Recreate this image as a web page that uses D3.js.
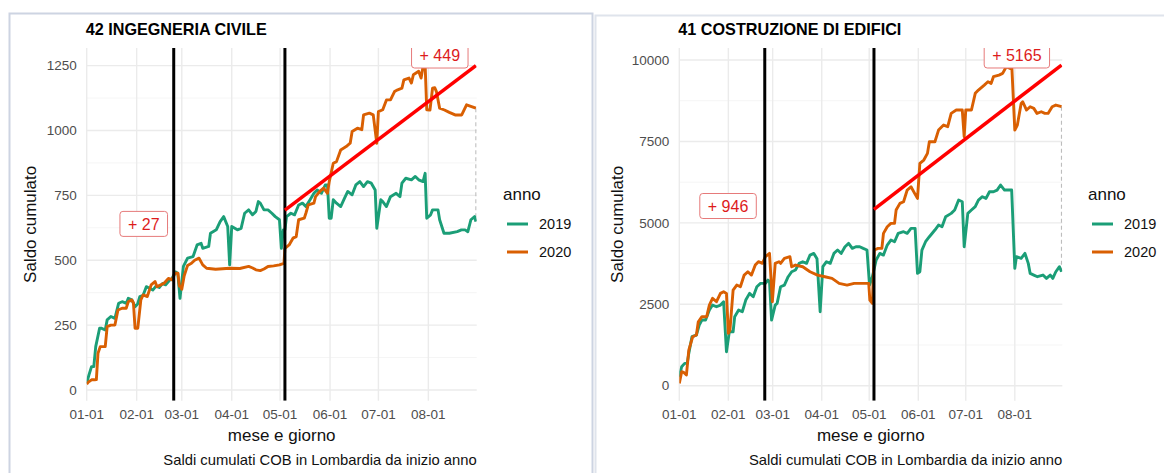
<!DOCTYPE html>
<html>
<head>
<meta charset="utf-8">
<script src="https://cdn.jsdelivr.net/npm/d3@7.9.0/dist/d3.min.js"></script>
<style>
  body { margin: 0; background: #fff; }
  text { font-family: "Liberation Sans", Arial, Helvetica, sans-serif; }
</style>
</head>
<body>
<svg id="chart" width="1164" height="473"></svg>
<script>
// month ticks (day of year)
const monthDays = [0, 31, 59, 90, 120, 151, 181, 212];
const monthLabels = ['01-01', '02-01', '03-01', '04-01', '05-01', '06-01', '07-01', '08-01'];
const years = ['2019', '2020'];
const lockdownDays = [54, 123]; // 24 feb, 4 mag

// 42 INGEGNERIA CIVILE  [day, saldo cumulato]
const civile2019 = [[0,26],[1.5,60],[3,90],[4.4,90],[5.6,167],[8,238],[9,238],[11.5,231],[12.7,270],[15,283],[17.5,276],[19.8,334],[22,340],[24.6,334],[25.8,353],[28,347],[30,321],[31.5,330],[33,360],[35,365],[37,398],[39,392],[41,385],[43,400],[45,395],[47,410],[49,405],[51,420],[53,430],[55,455],[56.5,450],[57.9,353],[60,476],[62.6,508],[66,514],[68.5,559],[71,565],[72,546],[75.7,553],[76.8,604],[80.4,617],[82.8,649],[85,668],[87.5,630],[88.7,482],[90,630],[93.5,617],[95.8,623],[98,681],[100.5,694],[102.9,675],[105,688],[106.5,726],[107.7,720],[110,694],[112.5,694],[114.9,681],[117,668],[119.6,656],[120.8,546],[122,617],[123,617],[124,668],[126.7,681],[129,675],[131.5,713],[133.9,720],[136,707],[138.6,733],[141,758],[143,771],[145.7,758],[148,790],[149.4,790],[150.5,662],[151.7,662],[153,733],[155,720],[157.6,707],[160,739],[162,765],[164.7,752],[167,790],[169.5,803],[171.8,784],[174.2,803],[176.6,797],[179,771],[180,623],[182.5,733],[183.7,726],[186,707],[188.5,745],[192,758],[194.4,745],[195.6,797],[198,816],[201.5,810],[203.9,823],[206,810],[208.7,803],[210,835],[211,662],[213.4,675],[214.6,694],[218,694],[219,656],[221.7,604],[225,604],[229.9,610],[232.5,617],[234.8,617],[236.5,610],[238.4,656],[240.7,668],[241.5,649]];
const civile2020 = [[0,22],[1,30],[3,39],[5,39],[6,40],[7,141],[8.4,167],[11.5,167],[12.7,244],[15,250],[17.5,250],[19.4,308],[22,315],[24.5,315],[25.8,340],[28,347],[29,335],[30,238],[31.7,238],[33.6,347],[35,366],[37.6,360],[40,405],[42.4,418],[43.6,398],[46,405],[48,411],[50.7,430],[53,424],[54.8,450],[56.6,450],[57.5,400],[58.3,398],[59,388],[60.5,440],[62.6,480],[65,488],[67,500],[69.7,508],[72,482],[74.4,469],[80,465],[88.7,469],[95,468],[100.5,476],[103,470],[105,463],[107.7,460],[110,466],[112.5,476],[116,478],[119.6,482],[122.4,488],[123,546],[125.6,559],[128,585],[130,591],[131.5,656],[135,662],[136,681],[137.5,713],[141,720],[142,745],[144.6,765],[147,778],[149.4,758],[150.5,803],[153,874],[155,880],[157.6,925],[161,938],[163.5,951],[164.7,996],[168,1009],[170.7,1003],[171.8,1060],[175.4,1067],[177.8,1060],[180,951],[181,1073],[183.7,1080],[186,1118],[188.5,1118],[191,1150],[193,1157],[195.6,1163],[196.8,1195],[200,1202],[201.5,1183],[202.7,1215],[206,1228],[207.5,1202],[208.7,1247],[210,1253],[211,1080],[213,1079],[214.6,1163],[216,1165],[217,1150],[219,1086],[222,1079],[225,1070],[228.6,1060],[232.7,1060],[235.7,1099],[238.8,1092],[241.5,1086]];
const civileTrend = [[123,693],[241.5,1250]];
const civileTicks = [0, 250, 500, 750, 1000, 1250];
const civileMinor = [125, 375, 625, 875, 1125];

// 41 COSTRUZIONE DI EDIFICI
const edifici2019 = [[0,276],[1.5,583],[3.4,686],[5,686],[6,993],[8,1505],[10.8,1556],[12.6,1863],[14.3,2017],[16.6,2017],[19,2323],[21,2477],[23.5,2426],[26,2477],[28,2580],[29.8,1044],[31.6,1658],[34,1658],[35,2119],[37.5,2323],[39.8,2272],[42,2630],[44.4,2835],[46.7,2733],[49,3040],[51.3,3142],[54.4,3142],[56,3245],[57,3200],[58.3,2016],[60.6,2477],[61.8,2528],[64,3040],[66.4,3091],[68.8,3347],[71,3500],[73.4,3552],[75.7,3757],[78,3808],[80.4,3757],[82.6,4012],[85,4063],[87,3900],[89,2272],[90.7,3654],[93,3808],[95.4,3757],[97.7,4063],[100,4166],[102.3,4063],[104.7,4268],[107,4370],[109.3,4217],[111.6,4268],[114,4268],[116.2,4217],[118.6,4166],[120.2,3091],[122,3347],[124.4,3859],[126.7,4063],[129,4012],[131.4,4319],[133.7,4473],[136,4422],[138.3,4678],[141.7,4729],[144,4678],[146.4,4831],[149,4831],[150.5,3449],[152,3500],[153.3,4166],[155.6,4422],[158,4575],[161.5,4780],[163.8,4934],[166,4882],[168.3,5189],[171.8,5292],[174,5394],[176.5,5701],[178.8,5650],[180,4268],[182.3,5292],[184.6,5394],[187,5497],[189,5701],[191.5,5803],[193.8,5752],[196,5957],[198.5,5957],[200.8,6008],[203,6162],[205.5,6008],[207.8,6008],[210,6008],[212,3603],[213,3961],[216,3910],[218.4,4063],[220.5,3757],[221.7,3449],[224,3398],[226.3,3347],[229.8,3398],[232,3296],[234.4,3398],[236,3296],[237.9,3500],[240.2,3654],[241.5,3500]];
const edifici2020 = [[0,72],[1.5,430],[3,400],[4.5,330],[6,1095],[8.5,1505],[10.8,1556],[12,1965],[14.3,2120],[17.3,2120],[19,2477],[21,2682],[23.5,2580],[26,2835],[28,2886],[29.8,2835],[31,1607],[32,1709],[34,2937],[36.3,3091],[38.6,3040],[41,3398],[43.3,3500],[45.6,3398],[48,3705],[50,3808],[52.5,3757],[54.4,3961],[57,4063],[58.8,2579],[60.6,3757],[63,3808],[64,3757],[66.4,3910],[69.9,3961],[71,3654],[73.4,3705],[78,3654],[82.6,3500],[87.3,3398],[92,3347],[96.5,3296],[101,3142],[106,3091],[110.5,3142],[119.7,3142],[120.4,2630],[122,2528],[123.2,4166],[125.6,4217],[128,4217],[129,4678],[131.4,4882],[133.7,4985],[136,4985],[137,5394],[139.4,5599],[141.7,5650],[144,6008],[146.4,6110],[148.7,5906],[150.5,5752],[152,6827],[154.5,6929],[156.8,7134],[158,7492],[161.5,7492],[163.8,7850],[167,8004],[169.6,7953],[171.8,8362],[175,8465],[178.8,8465],[180,7646],[181,8465],[184.6,8465],[187,8977],[189,9079],[192.7,9232],[195,9334],[197,9283],[198.5,9488],[202,9539],[204.3,9590],[206.6,9795],[209,9744],[210,9898],[212,7850],[213.6,8004],[216,8669],[217,8720],[219.4,8465],[221.7,8567],[224,8516],[226,8362],[228.7,8413],[231,8362],[233,8362],[235.6,8567],[237.9,8618],[241.5,8567]];
const edificiTrend = [[123,5415],[241.5,9846]];
const edificiTicks = [0, 2500, 5000, 7500, 10000];
const edificiMinor = [1250, 3750, 6250, 8750];

// labels: [day, value, text]
const civileLabels = [[35.4, 640, '+ 27'], [219.1, 1289, '+ 449']];
const edificiLabels = [[30.8, 5518, '+ 946'], [213.3, 10140, '+ 5165']];

const colors = { '2019': '#1b9e77', '2020': '#d95f02' };

const svg = d3.select('#chart');

// frames of the two screenshots
svg.append('rect').attr('x', 9.5).attr('y', 13.5).attr('width', 583).attr('height', 470)
  .attr('fill', 'none').attr('stroke', '#cdd4e2').attr('stroke-width', 2);
svg.append('rect').attr('x', 595.5).attr('y', 15.5).attr('width', 600).attr('height', 470)
  .attr('fill', 'none').attr('stroke', '#dfe4ec').attr('stroke-width', 2);

const panels = [
  { id: 'p1', title: '42 INGEGNERIA CIVILE', s2019: civile2019, s2020: civile2020, trend: civileTrend,
    ticks: civileTicks, minor: civileMinor, yDomain: [-41.5, 1318], labels: civileLabels,
    x0: 86.7, x1: 476.7, yTitleX: 36, legendX: 503 },
  { id: 'p2', title: '41 COSTRUZIONE DI EDIFICI', s2019: edifici2019, s2020: edifici2020, trend: edificiTrend,
    ticks: edificiTicks, minor: edificiMinor, yDomain: [-460, 10370], labels: edificiLabels,
    x0: 679.3, x1: 1062.3, yTitleX: 623, legendX: 1088 }
];

const plotTop = 48, plotBottom = 400.7;

panels.forEach(p => {
  const x = d3.scaleLinear().domain([0, 242]).range([p.x0, p.x1]);
  const y = d3.scaleLinear().domain(p.yDomain).range([plotBottom, plotTop]);
  const g = svg.append('g');

  g.append('clipPath').attr('id', 'clip-' + p.id)
    .append('rect').attr('x', p.x0).attr('y', plotTop).attr('width', p.x1 - p.x0).attr('height', plotBottom - plotTop);

  // grid
  g.selectAll('.minor').data(p.minor).join('line')
    .attr('x1', p.x0).attr('x2', p.x1).attr('y1', d => y(d)).attr('y2', d => y(d))
    .attr('stroke', '#f3f3f3').attr('stroke-width', 0.8);
  g.selectAll('.hmaj').data(p.ticks).join('line')
    .attr('x1', p.x0).attr('x2', p.x1).attr('y1', d => y(d)).attr('y2', d => y(d))
    .attr('stroke', '#ebebeb').attr('stroke-width', 1.4);
  g.selectAll('.vmaj').data(monthDays).join('line')
    .attr('x1', d => x(d)).attr('x2', d => x(d)).attr('y1', plotTop).attr('y2', plotBottom)
    .attr('stroke', '#ebebeb').attr('stroke-width', 1.4);

  // axis labels
  g.selectAll('.ylab').data(p.ticks).join('text')
    .attr('x', p.x0 - 10).attr('y', d => y(d)).attr('dy', '0.35em')
    .attr('text-anchor', 'end').attr('font-size', 13.5).attr('fill', '#4d4d4d')
    .text(d => d);
  g.selectAll('.xlab').data(monthDays).join('text')
    .attr('x', d => x(d)).attr('y', 419)
    .attr('text-anchor', 'middle').attr('font-size', 13.5).attr('fill', '#4d4d4d')
    .text((d, i) => monthLabels[i]);

  const mid = (p.x0 + p.x1) / 2;
  g.append('text').attr('x', mid).attr('y', 441).attr('text-anchor', 'middle')
    .attr('font-size', 17).attr('fill', '#111').text('mese e giorno');
  g.append('text').attr('x', p.x1).attr('y', 465).attr('text-anchor', 'end')
    .attr('font-size', 14.8).attr('fill', '#111').text('Saldi cumulati COB in Lombardia da inizio anno');
  g.append('text').attr('transform', `translate(${p.yTitleX},${(plotTop + plotBottom) / 2}) rotate(-90)`)
    .attr('text-anchor', 'middle').attr('font-size', 17).attr('fill', '#111').text('Saldo cumulato');
  g.append('text').attr('x', p.x0 - 1).attr('y', 35).attr('font-size', 16.2).attr('font-weight', 'bold')
    .attr('fill', '#000').text(p.title);

  const plot = g.append('g').attr('clip-path', `url(#clip-${p.id})`);

  // gap between the two years at the last day
  const last19 = p.s2019[p.s2019.length - 1], last20 = p.s2020[p.s2020.length - 1];
  plot.append('line').attr('x1', x(last20[0])).attr('x2', x(last20[0]))
    .attr('y1', y(last20[1])).attr('y2', y(last19[1]))
    .attr('stroke', '#bdbdbd').attr('stroke-width', 1.2).attr('stroke-dasharray', '4,3');

  const line = d3.line().x(d => x(d[0])).y(d => y(d[1]));
  plot.append('path').datum(p.s2019).attr('d', line).attr('fill', 'none')
    .attr('stroke', colors['2019']).attr('stroke-width', 2.9).attr('stroke-linejoin', 'round');
  plot.append('path').datum(p.s2020).attr('d', line).attr('fill', 'none')
    .attr('stroke', colors['2020']).attr('stroke-width', 2.9).attr('stroke-linejoin', 'round');

  plot.selectAll('.lock').data(lockdownDays).join('line')
    .attr('x1', d => x(d)).attr('x2', d => x(d)).attr('y1', plotTop).attr('y2', plotBottom)
    .attr('stroke', '#000').attr('stroke-width', 3);

  plot.append('path').datum(p.trend).attr('d', line).attr('fill', 'none')
    .attr('stroke', '#ff0000').attr('stroke-width', 3.5);

  // labels
  p.labels.forEach(l => {
    const lg = plot.append('g');
    const t = lg.append('text').attr('x', x(l[0])).attr('y', y(l[1])).attr('dy', '0.36em')
      .attr('text-anchor', 'middle').attr('font-size', 16).attr('fill', '#dd1c1c').text(l[2]);
    const w = t.node().getComputedTextLength() + 16;
    lg.insert('rect', 'text').attr('x', x(l[0]) - w / 2).attr('y', y(l[1]) - 12.5)
      .attr('width', w).attr('height', 25).attr('rx', 3)
      .attr('fill', '#fff').attr('stroke', '#e67a7a').attr('stroke-width', 1);
  });

  // legend
  const lx = p.legendX;
  g.append('text').attr('x', lx).attr('y', 200).attr('font-size', 17).attr('fill', '#111').text('anno');
  years.forEach((yr, i) => {
    const ly = 224 + i * 28;
    g.append('line').attr('x1', lx + 4).attr('x2', lx + 25).attr('y1', ly).attr('y2', ly)
      .attr('stroke', colors[yr]).attr('stroke-width', 3);
    g.append('text').attr('x', lx + 36).attr('y', ly).attr('dy', '0.36em')
      .attr('font-size', 14.5).attr('fill', '#111').text(yr);
  });
});
</script>
</body>
</html>
